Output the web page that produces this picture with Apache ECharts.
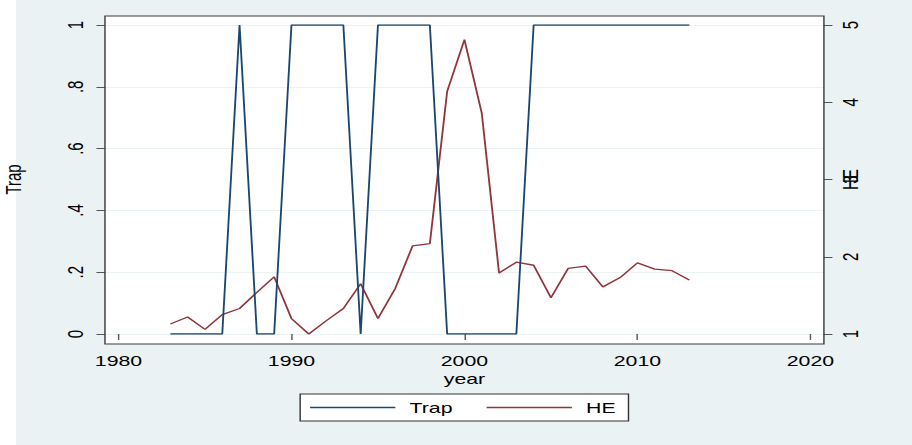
<!DOCTYPE html>
<html>
<head>
<meta charset="utf-8">
<script src="https://cdn.jsdelivr.net/npm/echarts@6/dist/echarts.min.js"></script>
<style>
html, body { margin: 0; padding: 0; width: 912px; height: 445px; overflow: hidden; background: #ffffff; }
#chart { width: 642px; height: 445px; transform: scaleX(1.420561); transform-origin: 0 0; }
</style>
</head>
<body>
<div id="chart"></div>
<script>
// ---- data ----
var years = [1983,1984,1985,1986,1987,1988,1989,1990,1991,1992,1993,1994,1995,1996,1997,1998,1999,2000,2001,2002,2003,2004,2005,2006,2007,2008,2009,2010,2011,2012,2013];
var trap  = [0,0,0,0,1,0,0,1,1,1,1,0,1,1,1,1,0,0,0,0,0,1,1,1,1,1,1,1,1,1,1];
var he    = [1.13,1.22,1.06,1.25,1.33,1.54,1.74,1.20,1.00,1.17,1.33,1.65,1.20,1.59,2.14,2.17,4.14,4.81,3.86,1.79,1.93,1.89,1.47,1.85,1.88,1.61,1.73,1.92,1.84,1.82,1.70];
var xTicks = [1980,1990,2000,2010,2020];
var xTickLabels = ['1980','1990','2000','2010','2020'];
var leftTicks = [0,0.2,0.4,0.6,0.8,1];
var leftTickLabels = ['0','.2','.4','.6','.8','1'];
var rightTicks = [1,2,3,4,5];
var rightTickLabels = ['1','2','3','4','5'];

function pick(vals, labels) {
  return function (v) {
    var best = 0, bd = Infinity;
    for (var i = 0; i < vals.length; i++) {
      var d = Math.abs(vals[i] - v);
      if (d < bd) { bd = d; best = i; }
    }
    return labels[best];
  };
}

var FONT = "'Liberation Sans', Arial, Helvetica, sans-serif";
var W = 642;
var plotL = 73.9, plotR = 580.0, plotT = 16, plotB = 344;

var chart = echarts.init(document.getElementById('chart'), null, { renderer: 'svg', width: 642, height: 445 });

var option = {
  animation: false,
  backgroundColor: '#eaf2f3',
  textStyle: { fontFamily: FONT },
  graphic: [
    { type: 'rect', z: -5, silent: true, shape: { x: 0, y: 0, width: 11.26, height: 445 }, style: { fill: '#ffffff' } },
    { type: 'rect', z: -4, silent: true, shape: { x: plotL, y: plotT, width: plotR - plotL, height: plotB - plotT }, style: { fill: '#ffffff' } },
    { type: 'rect', z: 50, silent: true, shape: { x: plotL, y: plotT, width: plotR - plotL, height: plotB - plotT }, style: { fill: 'none', stroke: '#3a3a3a', lineWidth: 1 } }
  ],
  grid: { left: plotL, right: W - plotR, top: 25, bottom: 111, containLabel: false, outerBoundsMode: 'none' },
  legend: {
    data: ['Trap', 'HE'],
    left: 211.3, top: 394,
    orient: 'horizontal',
    icon: 'rect',
    itemWidth: 60, itemHeight: 1.3, itemGap: 24,
    padding: [6, 9, 6, 7],
    backgroundColor: '#ffffff',
    borderColor: '#333333', borderWidth: 1, borderRadius: 0,
    textStyle: { color: '#000000', fontSize: 15, fontFamily: FONT, padding: [0, 0, 0, 5] }
  },
  xAxis: {
    type: 'value',
    min: 1979.22, max: 2020.78,
    offset: 10,
    name: 'year', nameLocation: 'middle', nameGap: 28.5, nameMoveOverlap: false,
    nameTextStyle: { color: '#000000', fontSize: 15, lineHeight: 12, fontFamily: FONT },
    axisLine: { show: false },
    axisTick: { show: true, length: 6, customValues: xTicks, lineStyle: { color: '#555555', width: 1 } },
    axisLabel: { customValues: xTicks, formatter: pick(xTicks, xTickLabels), margin: 11, lineHeight: 12, color: '#000000', fontSize: 15, fontFamily: FONT },
    splitLine: { show: false }
  },
  yAxis: [
    {
      type: 'value', position: 'left',
      min: 0, max: 1, interval: 0.2,
      name: 'Trap', nameLocation: 'middle', nameGap: 57, nameRotate: 90, nameMoveOverlap: false,
      nameTextStyle: { color: '#000000', fontSize: 15, fontFamily: FONT },
      axisLine: { show: false },
      axisTick: { show: true, length: 6, customValues: leftTicks, lineStyle: { color: '#555555', width: 1 } },
      axisLabel: { customValues: leftTicks, formatter: pick(leftTicks, leftTickLabels), rotate: 90, margin: 13, color: '#000000', fontSize: 15, fontFamily: FONT },
      splitLine: { show: true, lineStyle: { color: '#eaf2f3', width: 1 } }
    },
    {
      type: 'value', position: 'right',
      min: 1, max: 5, interval: 1,
      name: 'HE', nameLocation: 'middle', nameGap: 11, nameRotate: 90, nameMoveOverlap: false,
      nameTextStyle: { color: '#000000', fontSize: 15, fontFamily: FONT },
      axisLine: { show: false },
      axisTick: { show: true, length: 6, customValues: rightTicks, lineStyle: { color: '#555555', width: 1 } },
      axisLabel: { customValues: rightTicks, formatter: pick(rightTicks, rightTickLabels), rotate: 90, margin: 11, color: '#000000', fontSize: 15, fontFamily: FONT },
      splitLine: { show: false }
    }
  ],
  series: [
    {
      name: 'Trap', type: 'line', yAxisIndex: 0,
      data: years.map(function (y, i) { return [y, trap[i]]; }),
      symbol: 'none', showSymbol: false,
      lineStyle: { color: '#1a476f', width: 1.3 },
      itemStyle: { color: '#1a476f' },
      z: 3
    },
    {
      name: 'HE', type: 'line', yAxisIndex: 1,
      data: years.map(function (y, i) { return [y, he[i]]; }),
      symbol: 'none', showSymbol: false,
      lineStyle: { color: '#90353b', width: 1.3 },
      itemStyle: { color: '#90353b' },
      z: 2
    }
  ]
};
chart.setOption(option);
</script>
</body>
</html>
